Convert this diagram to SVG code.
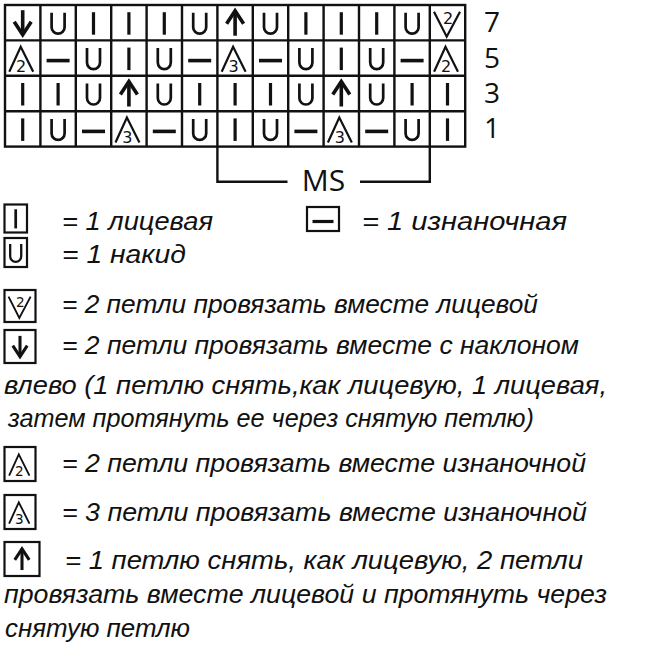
<svg xmlns="http://www.w3.org/2000/svg" xmlns:xlink="http://www.w3.org/1999/xlink" width="655" height="649" viewBox="0 0 655 649">
<style>
.g{fill:none;stroke:#111;stroke-width:2.4}
.s{fill:none;stroke:#111;stroke-linecap:butt;stroke-linejoin:miter}
.n{font-family:"DejaVu Sans",sans-serif;font-size:16px;fill:#111}
.num{font-family:"Open Sans","DejaVu Sans",sans-serif;font-size:28px;fill:#111}
.t{font-family:"Liberation Sans",Arial,sans-serif;font-style:italic;font-size:26.5px;fill:#111}
.lb{fill:#fff;stroke:#111;stroke-width:2.2}
</style>
<defs>
<g id="k"><line class="s" x1="0" y1="-10.5" x2="0" y2="12" stroke-width="3.2"/></g>
<g id="yo"><path class="s" d="M-6.5,-10 V4.5 A6.5,6.5 0 0 0 6.5,4.5 V-10" stroke-width="2.7"/></g>
<g id="p"><line class="s" x1="-11.5" y1="2.5" x2="11.5" y2="2.5" stroke-width="3.6"/></g>
<g id="dn"><line class="s" x1="0" y1="-12.5" x2="0" y2="12" stroke-width="3.6"/><polyline class="s" points="-8.5,-1 0,12 8.5,-1" stroke-width="3.6"/></g>
<g id="up"><line class="s" x1="0" y1="13" x2="0" y2="-12" stroke-width="3.6"/><polyline class="s" points="-8.5,1 0,-12 8.5,1" stroke-width="3.6"/></g>
<g id="p2"><polyline class="s" points="-13.4,13.6 -2,-11.4 10.5,13.6" stroke-width="2.2"/><text class="n" x="-1.5" y="14" text-anchor="middle">2</text></g>
<g id="p3"><polyline class="s" points="-13.4,13.6 -2,-11.4 10.5,13.6" stroke-width="2.2"/><text class="n" x="-1.5" y="14" text-anchor="middle">3</text></g>
<g id="k2"><polyline class="s" points="-13.5,-11 -0.8,14 12.5,-11" stroke-width="2.2"/><text class="n" x="0.5" y="1" text-anchor="middle">2</text></g>
</defs>
<rect width="655" height="649" fill="#fff"/>

<g id="chart">
<rect class="g" x="5" y="5" width="460.2" height="141.6" stroke-width="2.6"/>
<path class="g" d="M40.4,5V146.6M75.8,5V146.6M111.2,5V146.6M146.6,5V146.6M182,5V146.6M217.4,5V146.6M252.8,5V146.6M288.2,5V146.6M323.6,5V146.6M359,5V146.6M394.4,5V146.6M429.8,5V146.6M5,40.4H465.2M5,75.8H465.2M5,111.2H465.2"/>
</g>

<g id="row7">
<use xlink:href="#dn" x="22.7" y="22.7"/>
<use xlink:href="#yo" x="58.1" y="22.7"/>
<use xlink:href="#k" x="93.5" y="22.7"/>
<use xlink:href="#k" x="128.9" y="22.7"/>
<use xlink:href="#k" x="164.3" y="22.7"/>
<use xlink:href="#yo" x="199.7" y="22.7"/>
<use xlink:href="#up" x="235.1" y="22.7"/>
<use xlink:href="#yo" x="270.5" y="22.7"/>
<use xlink:href="#k" x="305.9" y="22.7"/>
<use xlink:href="#k" x="341.3" y="22.7"/>
<use xlink:href="#k" x="376.7" y="22.7"/>
<use xlink:href="#yo" x="412.1" y="22.7"/>
<use xlink:href="#k2" x="447.5" y="22.7"/>
</g>
<g id="row5">
<use xlink:href="#p2" x="22.7" y="58.1"/>
<use xlink:href="#p" x="58.1" y="58.1"/>
<use xlink:href="#yo" x="93.5" y="58.1"/>
<use xlink:href="#k" x="128.9" y="58.1"/>
<use xlink:href="#yo" x="164.3" y="58.1"/>
<use xlink:href="#p" x="199.7" y="58.1"/>
<use xlink:href="#p3" x="235.1" y="58.1"/>
<use xlink:href="#p" x="270.5" y="58.1"/>
<use xlink:href="#yo" x="305.9" y="58.1"/>
<use xlink:href="#k" x="341.3" y="58.1"/>
<use xlink:href="#yo" x="376.7" y="58.1"/>
<use xlink:href="#p" x="412.1" y="58.1"/>
<use xlink:href="#p2" x="447.5" y="58.1"/>
</g>
<g id="row3">
<use xlink:href="#k" x="22.7" y="93.5"/>
<use xlink:href="#k" x="58.1" y="93.5"/>
<use xlink:href="#yo" x="93.5" y="93.5"/>
<use xlink:href="#up" x="128.9" y="93.5"/>
<use xlink:href="#yo" x="164.3" y="93.5"/>
<use xlink:href="#k" x="199.7" y="93.5"/>
<use xlink:href="#k" x="235.1" y="93.5"/>
<use xlink:href="#k" x="270.5" y="93.5"/>
<use xlink:href="#yo" x="305.9" y="93.5"/>
<use xlink:href="#up" x="341.3" y="93.5"/>
<use xlink:href="#yo" x="376.7" y="93.5"/>
<use xlink:href="#k" x="412.1" y="93.5"/>
<use xlink:href="#k" x="447.5" y="93.5"/>
</g>
<g id="row1">
<use xlink:href="#k" x="22.7" y="128.9"/>
<use xlink:href="#yo" x="58.1" y="128.9"/>
<use xlink:href="#p" x="93.5" y="128.9"/>
<use xlink:href="#p3" x="128.9" y="128.9"/>
<use xlink:href="#p" x="164.3" y="128.9"/>
<use xlink:href="#yo" x="199.7" y="128.9"/>
<use xlink:href="#k" x="235.1" y="128.9"/>
<use xlink:href="#yo" x="270.5" y="128.9"/>
<use xlink:href="#p" x="305.9" y="128.9"/>
<use xlink:href="#p3" x="341.3" y="128.9"/>
<use xlink:href="#p" x="376.7" y="128.9"/>
<use xlink:href="#yo" x="412.1" y="128.9"/>
<use xlink:href="#k" x="447.5" y="128.9"/>
</g>

<g id="row-numbers">
<text class="num" x="484" y="31.5">7</text>
<text class="num" x="484" y="67.5">5</text>
<text class="num" x="484" y="102.5">3</text>
<text class="num" x="484" y="138">1</text>
</g>

<g id="ms">
<path class="g" d="M217.4,146.6V181.7H287.5M360,181.7H429.8V146.6" stroke-width="2.2"/>
<text class="num" x="323.5" y="190.5" text-anchor="middle" style="font-size:30px">MS</text>
</g>

<g id="legend-knit">
<rect class="lb" x="4.5" y="204.5" width="22.5" height="28"/>
<g transform="translate(15.7,218.2) scale(0.85)"><use xlink:href="#k"/></g>
<text class="t" x="62" y="230" textLength="151" lengthAdjust="spacingAndGlyphs">= 1 лицевая</text>
</g>
<g id="legend-purl">
<rect class="lb" x="307" y="207" width="32" height="24"/>
<line class="s" x1="312.5" y1="221.5" x2="333.5" y2="221.5" stroke-width="3.2"/>
<text class="t" x="362" y="230" textLength="205" lengthAdjust="spacingAndGlyphs">= 1 изнаночная</text>
</g>
<g id="legend-yo">
<rect class="lb" x="4.5" y="238" width="22.5" height="29"/>
<g transform="translate(15.7,252.5) scale(0.85)"><use xlink:href="#yo"/></g>
<text class="t" x="62" y="263" textLength="124" lengthAdjust="spacingAndGlyphs">= 1 накид</text>
</g>
<g id="legend-k2tog">
<rect class="lb" x="4.5" y="290" width="31" height="32"/>
<g transform="translate(20,306) scale(0.85)"><use xlink:href="#k2"/></g>
<text class="t" x="62" y="313" textLength="476" lengthAdjust="spacingAndGlyphs">= 2 петли провязать вместе лицевой</text>
</g>
<g id="legend-ssk">
<rect class="lb" x="4.5" y="330" width="31" height="33"/>
<g transform="translate(20,346.5) scale(0.85)"><use xlink:href="#dn"/></g>
<text class="t" x="62" y="354" textLength="517" lengthAdjust="spacingAndGlyphs">= 2 петли провязать вместе с наклоном</text>
<text class="t" x="4" y="394" textLength="603" lengthAdjust="spacingAndGlyphs">влево (1 петлю снять,как лицевую, 1 лицевая,</text>
<text class="t" x="8" y="427" textLength="526" lengthAdjust="spacingAndGlyphs">затем протянуть ее через снятую петлю)</text>
</g>
<g id="legend-p2tog">
<rect class="lb" x="4.5" y="447" width="31" height="34"/>
<g transform="translate(20.5,464) scale(0.85)"><use xlink:href="#p2"/></g>
<text class="t" x="62" y="472" textLength="524" lengthAdjust="spacingAndGlyphs">= 2 петли провязать вместе изнаночной</text>
</g>
<g id="legend-p3tog">
<rect class="lb" x="4.5" y="495" width="31" height="34"/>
<g transform="translate(20.5,512) scale(0.85)"><use xlink:href="#p3"/></g>
<text class="t" x="62" y="521" textLength="525" lengthAdjust="spacingAndGlyphs">= 3 петли провязать вместе изнаночной</text>
</g>
<g id="legend-sk2p">
<rect class="lb" x="4.5" y="542" width="35" height="34"/>
<g transform="translate(22,559) scale(0.85)"><use xlink:href="#up"/></g>
<text class="t" x="65" y="569" textLength="518" lengthAdjust="spacingAndGlyphs">= 1 петлю снять, как лицевую, 2 петли</text>
<text class="t" x="4" y="603" textLength="603" lengthAdjust="spacingAndGlyphs">провязать вместе лицевой и протянуть через</text>
<text class="t" x="5" y="637" textLength="185" lengthAdjust="spacingAndGlyphs">снятую петлю</text>
</g>
</svg>
